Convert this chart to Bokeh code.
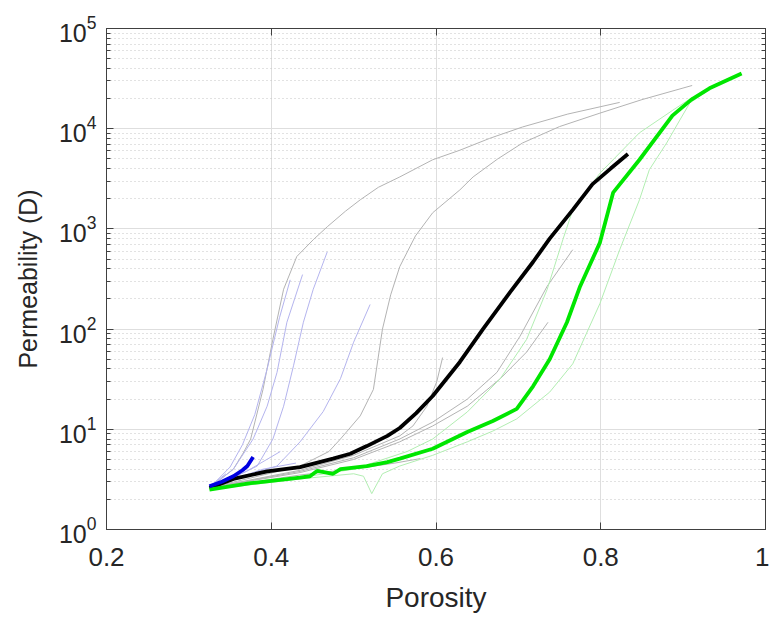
from bokeh.plotting import figure
from bokeh.models import LogAxis, LinearAxis, FixedTicker, Range1d
from bokeh.embed import file_html
from bokeh.resources import INLINE

# ---- data: porosity (x) vs permeability in D (y) ----
black_x = [0.325, 0.354, 0.395, 0.435, 0.475, 0.496, 0.516, 0.541, 0.556, 0.576, 0.596, 0.629, 0.657, 0.690, 0.718, 0.738, 0.766, 0.790, 0.812, 0.833]
black_y = [2.6, 3.2, 3.8, 4.2, 5.1, 5.7, 6.8, 8.6, 10.3, 14.5, 21.5, 47, 100, 234, 470, 800, 1550, 2800, 4000, 5600]

green_x = [0.325, 0.375, 0.435, 0.447, 0.456, 0.475, 0.484, 0.516, 0.541, 0.556, 0.596, 0.638, 0.669, 0.698, 0.718, 0.738, 0.759, 0.775, 0.799, 0.815, 0.847, 0.887, 0.910, 0.932, 0.971]
green_y = [2.5, 2.9, 3.3, 3.4, 3.85, 3.6, 4.0, 4.3, 4.7, 5.1, 6.4, 9.4, 12.1, 16, 27, 50, 117, 268, 730, 2300, 4900, 13500, 19500, 25300, 35600]

blue_x = [0.325, 0.340, 0.354, 0.365, 0.371, 0.378]
blue_y = [2.7, 3.0, 3.4, 3.9, 4.3, 5.3]

gray_x = [
    [0.325, 0.354, 0.366, 0.375, 0.390, 0.402, 0.415, 0.431, 0.451, 0.468, 0.490, 0.508, 0.530, 0.556, 0.596, 0.629, 0.665, 0.705, 0.760, 0.823],
    [0.325, 0.435, 0.470, 0.484, 0.508, 0.524, 0.535, 0.545, 0.556, 0.575, 0.596, 0.629, 0.645, 0.675, 0.705, 0.750, 0.799, 0.850, 0.911],
    [0.325, 0.435, 0.500, 0.556, 0.572, 0.589, 0.601, 0.608],
    [0.325, 0.435, 0.500, 0.556, 0.596, 0.638, 0.674, 0.702, 0.735, 0.766],
    [0.325, 0.435, 0.500, 0.556, 0.596, 0.638, 0.678, 0.710, 0.736],
    [0.325, 0.435, 0.508, 0.550, 0.581],
]
gray_y = [
    [2.6, 4.0, 5.8, 8.0, 25, 79, 250, 530, 780, 1050, 1500, 1950, 2600, 3300, 4900, 6100, 8000, 10400, 14000, 18300],
    [2.6, 4.3, 6.0, 8.0, 13.6, 25, 100, 220, 420, 850, 1450, 2450, 3300, 5000, 7200, 10500, 14300, 19500, 27000],
    [2.6, 3.9, 5.5, 8.6, 10.8, 17, 30, 52],
    [2.6, 3.8, 5.2, 8.0, 11.8, 20, 37, 85, 268, 620],
    [2.6, 3.7, 5.0, 7.5, 10.8, 17, 32, 59, 117],
    [2.55, 3.5, 4.1, 4.6, 5.1],
]

lblue_x = [
    [0.325, 0.354, 0.378, 0.395, 0.407, 0.419, 0.438],
    [0.325, 0.360, 0.383, 0.402, 0.415, 0.427, 0.439, 0.451, 0.468],
    [0.325, 0.370, 0.407, 0.435, 0.463, 0.484, 0.500, 0.520],
    [0.325, 0.370, 0.411],
    [0.325, 0.350, 0.365, 0.380, 0.395, 0.410, 0.423],
    [0.325, 0.360, 0.390, 0.430],
    [0.325, 0.335, 0.345],
]
lblue_y = [
    [2.6, 4.0, 8, 17, 37, 117, 350],
    [2.6, 3.5, 4.3, 8, 17, 43, 117, 250, 590],
    [2.6, 3.5, 4.3, 7.5, 15, 32, 74, 176],
    [2.6, 3.8, 6.0],
    [2.6, 4.2, 7, 14, 40, 130, 310],
    [2.6, 3.3, 4.0, 4.6],
    [2.6, 3.1, 3.6],
]

lgreen_x = [
    [0.325, 0.435, 0.500, 0.565, 0.596, 0.638, 0.678, 0.710, 0.735, 0.754, 0.766, 0.799, 0.847, 0.887, 0.911],
    [0.325, 0.435, 0.500, 0.512, 0.522, 0.535, 0.556, 0.596, 0.638, 0.669, 0.698, 0.738, 0.766, 0.799, 0.823, 0.847, 0.859, 0.880, 0.896, 0.908, 0.930],
]
lgreen_y = [
    [2.5, 3.3, 4.0, 6.0, 8.0, 14.9, 32, 79, 250, 780, 1550, 3600, 9100, 15200, 20500],
    [2.5, 3.2, 3.6, 3.4, 2.28, 3.6, 4.3, 5.5, 7.5, 9.6, 12.7, 23.5, 45, 180, 620, 1950, 3900, 7200, 12200, 18000, 24000],
]

x_ticks = [0.2, 0.4, 0.6, 0.8, 1.0]
y_ticks = [1, 10, 100, 1000, 10000, 100000]
y_minor = [m * 10 ** k for k in range(5) for m in range(2, 10)]

FONT = "Liberation Sans"
TXT = "#262626"
AX = "#404040"

p = figure(width=769, height=615, x_range=Range1d(0.2, 1.0), y_range=Range1d(1, 1e5),
           y_axis_type="log", output_backend="svg", toolbar_location=None,
           min_border_left=106, min_border_right=4, min_border_top=28, min_border_bottom=84)
p.background_fill_color = "white"
p.border_fill_color = "white"
p.outline_line_color = AX

xt = FixedTicker(ticks=x_ticks, minor_ticks=[])
yt = FixedTicker(ticks=y_ticks, minor_ticks=y_minor)

p.xaxis.ticker = xt
p.yaxis.ticker = yt
p.xgrid.ticker = xt
p.ygrid.ticker = yt

for ax in (p.xaxis[0], p.yaxis[0]):
    ax.axis_line_color = AX
    ax.major_tick_line_color = AX
    ax.minor_tick_line_color = AX
    ax.major_tick_in = 7
    ax.major_tick_out = 0
    ax.minor_tick_in = 4
    ax.minor_tick_out = 0
    ax.major_label_text_font = FONT
    ax.major_label_text_color = TXT
    ax.axis_label_text_font = FONT
    ax.axis_label_text_color = TXT
    ax.axis_label_text_font_style = "normal"

p.xaxis.major_label_text_font_size = "26px"
p.xaxis.major_label_standoff = 18
p.xaxis.major_label_overrides = {1: "1"}
p.xaxis.axis_label = "Porosity"
p.xaxis.axis_label_text_font_size = "28px"
p.xaxis.axis_label_standoff = 13

p.yaxis.major_label_text_font_size = "25px"
p.yaxis.major_label_standoff = 10
p.yaxis.axis_label = "Permeability (D)"
p.yaxis.axis_label_text_font_size = "25px"
p.yaxis.axis_label_standoff = 14

p.xgrid.grid_line_color = "#dedede"
p.ygrid.grid_line_color = "#dedede"
p.ygrid.minor_grid_line_color = "#c4c4c4"
p.ygrid.minor_grid_line_dash = "1 3"

right = LogAxis(ticker=yt, major_tick_in=7, major_tick_out=0, minor_tick_in=4, minor_tick_out=0,
                axis_line_color=AX, major_tick_line_color=AX, minor_tick_line_color=AX,
                major_label_text_font_size="1px", major_label_text_alpha=0, major_label_standoff=0)
top = LinearAxis(ticker=xt, major_tick_in=7, major_tick_out=0, minor_tick_line_color=None,
                 axis_line_color=AX, major_tick_line_color=AX,
                 major_label_text_font_size="1px", major_label_text_alpha=0, major_label_standoff=0)
p.add_layout(right, "right")
p.add_layout(top, "above")

for xs, ys in zip(gray_x, gray_y):
    p.line(xs, ys, line_color="#b3b3b3", line_width=1)
for xs, ys in zip(lblue_x, lblue_y):
    p.line(xs, ys, line_color="#b4b4ee", line_width=1)
for xs, ys in zip(lgreen_x, lgreen_y):
    p.line(xs, ys, line_color="#b2eeb2", line_width=1)

p.line(black_x, black_y, line_color="black", line_width=3.8)
p.line(green_x, green_y, line_color="#00e600", line_width=3.8)
p.line(blue_x, blue_y, line_color="#0000e0", line_width=3.8)

open("out.html", "w").write(file_html(p, INLINE))
